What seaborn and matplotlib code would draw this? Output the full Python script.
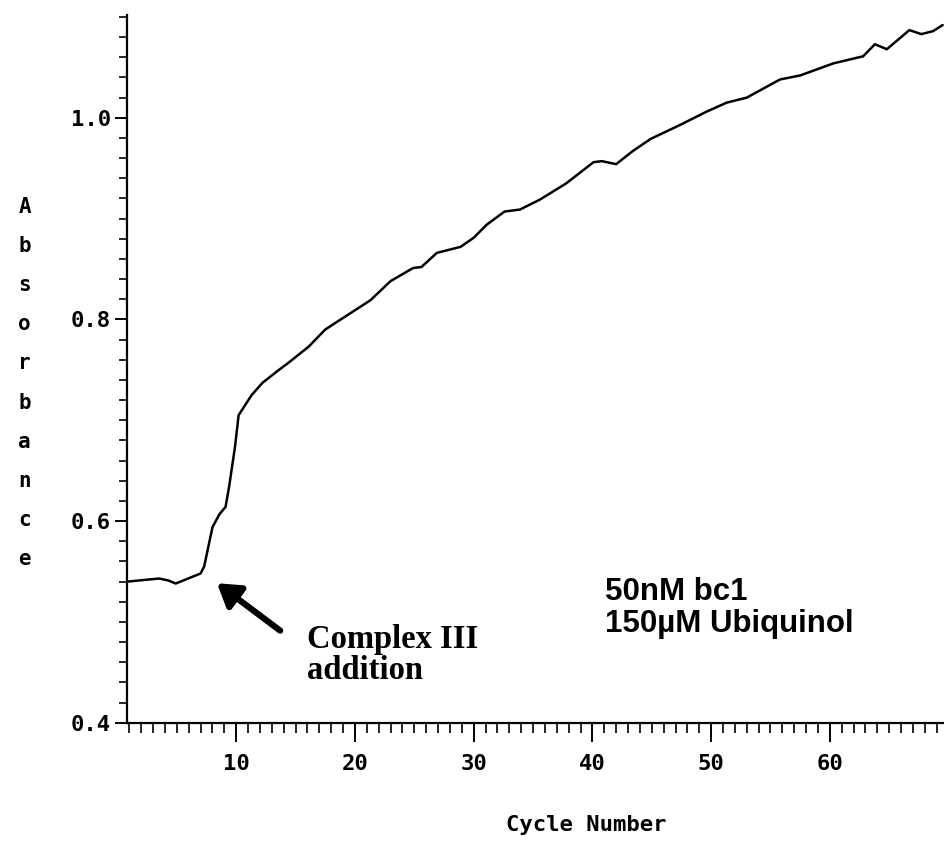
import matplotlib
matplotlib.use("Agg")
import matplotlib.pyplot as plt
from matplotlib.ticker import MultipleLocator, FixedLocator
import seaborn as sns
import pandas as pd

# Absorbance trace recorded over the kinetic cycles
cycle = [0.9, 3.5, 4.3, 4.9, 7.0, 7.3, 8.0, 8.6, 9.1, 9.4, 9.9, 10.2, 11.3,
         12.2, 13.6, 14.4, 16.1, 17.5, 19.2, 21.3, 23.0, 24.9, 25.6, 26.9,
         28.9, 30.0, 31.1, 32.6, 33.9, 35.6, 37.8, 40.1, 40.8, 42.0, 43.4,
         44.9, 47.4, 49.6, 51.3, 53.0, 55.8, 57.5, 60.3, 62.8, 63.8, 64.8,
         66.7, 67.7, 68.7, 69.5]
absorbance = [0.540, 0.543, 0.541, 0.538, 0.548, 0.555, 0.594, 0.607, 0.614,
              0.634, 0.674, 0.705, 0.725, 0.737, 0.750, 0.757, 0.773, 0.790,
              0.803, 0.819, 0.838, 0.851, 0.852, 0.866, 0.872, 0.881, 0.894,
              0.907, 0.909, 0.919, 0.935, 0.956, 0.957, 0.954, 0.967, 0.979,
              0.993, 1.006, 1.015, 1.020, 1.038, 1.042, 1.054, 1.061, 1.073,
              1.068, 1.087, 1.083, 1.086, 1.092]

y_major = [0.4, 0.6, 0.8, 1.0]
y_labels = ["0.4", "0.6", "0.8", "1.0"]
x_major = [10, 20, 30, 40, 50, 60]
x_labels = ["10", "20", "30", "40", "50", "60"]

sample_note = "50nM bc1\n150\u00b5M Ubiquinol"
event_note = "Complex III\naddition"

sns.set_theme(style="white")
plt.rcParams["font.family"] = ["DejaVu Sans Mono", "DejaVu Sans"]

df = pd.DataFrame({"Cycle Number": cycle, "Absorbance": absorbance})

fig = plt.figure(figsize=(9.45, 8.41), dpi=100)
ax = fig.add_axes([0.1344, 0.1407, 0.8656, 0.8415])

sns.lineplot(data=df, x="Cycle Number", y="Absorbance", ax=ax,
             color="black", linewidth=1.8, sort=False)

ax.set_xlim(0.8, 69.7)
ax.set_ylim(0.4, 1.102)

for side in ("top", "right"):
    ax.spines[side].set_visible(False)
for side in ("left", "bottom"):
    ax.spines[side].set_color("black")
    ax.spines[side].set_linewidth(1.6)

ax.yaxis.set_major_locator(FixedLocator(y_major))
ax.set_yticklabels(y_labels)
ax.yaxis.set_minor_locator(MultipleLocator(0.02))
ax.xaxis.set_major_locator(FixedLocator(x_major))
ax.set_xticklabels(x_labels)
ax.xaxis.set_minor_locator(MultipleLocator(1))

ax.tick_params(axis="y", which="major", direction="out", length=8.5,
               width=1.4, color="black", labelsize=16, pad=3, left=True)
ax.tick_params(axis="y", which="minor", direction="out", length=5.5,
               width=1.2, color="black", left=True)
ax.tick_params(axis="x", which="major", direction="out", length=13.5,
               width=1.4, color="black", labelsize=16, pad=9, bottom=True)
ax.tick_params(axis="x", which="minor", direction="out", length=7,
               width=1.2, color="black", bottom=True)
for lab in ax.get_xticklabels() + ax.get_yticklabels():
    lab.set_color("black")
    lab.set_fontweight("bold")

ax.set_xlabel("Cycle Number", fontsize=16, color="black",
              fontweight="bold", va="center")
ax.xaxis.set_label_coords(0.562, -0.145)
ax.set_ylabel("\n".join("Absorbance"), rotation=0, fontsize=15,
              color="black", fontweight="bold", va="center", ha="center",
              linespacing=2.2)
ax.yaxis.set_label_coords(-0.125, 0.48)

ax.annotate("", xy=(8.38, 0.5383), xytext=(13.7, 0.4913),
            arrowprops=dict(arrowstyle="-|>,head_length=1.1,head_width=0.7",
                            color="black", lw=4.5, shrinkA=0, shrinkB=0))

ax.text(15.95, 0.4975, event_note, family="Liberation Serif",
        fontweight="bold", fontsize=23.5, color="black", va="top", ha="left",
        linespacing=1.0)
ax.text(41.05, 0.5445, sample_note, family="Liberation Sans",
        fontweight="bold", fontsize=22.5, color="black", va="top", ha="left",
        linespacing=1.08)

fig.savefig("out.png", dpi=100, facecolor="white")
